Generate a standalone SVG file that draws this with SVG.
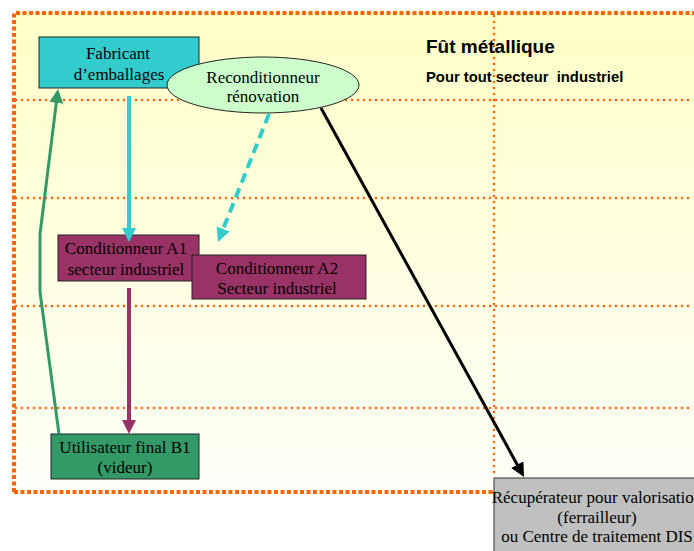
<svg xmlns="http://www.w3.org/2000/svg" width="694" height="551" viewBox="0 0 694 551">
<style>
.box{stroke:#222;stroke-width:1}
.t{font-family:"Liberation Serif","Times New Roman",serif;font-size:17px;fill:#000;text-anchor:middle}
.dot{stroke:#FF6600;stroke-width:2.6;stroke-dasharray:0 6;stroke-linecap:round;fill:none}
.h{font-family:"Liberation Sans",Arial,sans-serif;font-weight:bold;fill:#000;white-space:pre}
.c{fill:none;stroke-width:3}
.w{stroke-width:4}
</style>
<defs>
<linearGradient id="bg" x1="0" y1="0" x2="0" y2="1">
<stop offset="0" stop-color="#FFFFC8"/>
<stop offset="1" stop-color="#FFFFFA"/>
</linearGradient>
<marker id="aC" markerUnits="userSpaceOnUse" markerWidth="14" markerHeight="14" refX="4" refY="7" orient="auto"><path d="M0,0 L14,7 L0,14 z" fill="#33CCCC"/></marker>
<marker id="aP" markerUnits="userSpaceOnUse" markerWidth="14" markerHeight="14" refX="4" refY="7" orient="auto"><path d="M0,0 L14,7 L0,14 z" fill="#993366"/></marker>
<marker id="aK" markerUnits="userSpaceOnUse" markerWidth="14" markerHeight="14" refX="4" refY="7" orient="auto"><path d="M0,0 L14,7 L0,14 z" fill="#000"/></marker>
<marker id="aG" markerUnits="userSpaceOnUse" markerWidth="14" markerHeight="14" refX="4" refY="7" orient="auto"><path d="M0,0 L14,7 L0,14 z" fill="#339966"/></marker>
</defs>
<rect x="0" y="0" width="694" height="551" fill="#FFFFFF"/>
<g id="frame">
<rect x="14" y="13" width="690" height="479" fill="url(#bg)"/>
<line class="dot" x1="16" y1="100" x2="694" y2="100"/>
<line class="dot" x1="16" y1="198" x2="694" y2="198"/>
<line class="dot" x1="16" y1="306" x2="694" y2="306"/>
<line class="dot" x1="16" y1="408" x2="694" y2="408"/>
<line class="dot" x1="494" y1="16" x2="494" y2="476"/>
<path d="M14,492 L14,13 L700,13 M14,492 L494,492" fill="none" stroke="#FF6600" stroke-width="4" stroke-dasharray="4 2.5"/>
</g>
<g id="title">
<text class="h" x="426" y="53" font-size="19">Fût métallique</text>
<text class="h" x="426" y="82" font-size="14.8">Pour tout secteur  industriel</text>
</g>
<g id="fabricant">
<rect class="box" x="39" y="37" width="160" height="51" fill="#33CCCC"/>
<text class="t" x="118" y="59">Fabricant</text>
<text class="t" x="119" y="80">d’emballages</text>
</g>
<g id="reconditionneur">
<ellipse class="box" cx="263" cy="85" rx="96" ry="28" fill="#CCFFCC"/>
<text class="t" x="263" y="83">Reconditionneur</text>
<text class="t" x="263" y="102">rénovation</text>
</g>
<g id="conditionneurA1">
<rect class="box" x="58" y="235" width="141" height="46" fill="#993366"/>
<text class="t" x="126" y="254">Conditionneur A1</text>
<text class="t" x="126" y="275">secteur industriel</text>
</g>
<g id="conditionneurA2">
<rect class="box" x="192" y="255" width="174" height="44" fill="#993366"/>
<text class="t" x="277" y="274">Conditionneur A2</text>
<text class="t" x="277" y="294">Secteur industriel</text>
</g>
<g id="utilisateurB1">
<rect class="box" x="51" y="434" width="148" height="45" fill="#339966"/>
<text class="t" x="125" y="453">Utilisateur final B1</text>
<text class="t" x="125" y="473">(videur)</text>
</g>
<g id="recuperateur">
<rect x="494" y="478" width="210" height="80" fill="#C0C0C0" stroke="#333" stroke-width="1"/>
<text class="t" x="597" y="503">Récupérateur pour valorisation</text>
<text class="t" x="597" y="523">(ferrailleur)</text>
<text class="t" x="597" y="542">ou Centre de traitement DIS</text>
</g>
<g id="connectors">
<line class="c w" x1="129" y1="96" x2="129" y2="232" stroke="#33CCCC" marker-end="url(#aC)"/>
<line class="c w" x1="269" y1="114" x2="221.7" y2="232.7" stroke="#33CCCC" stroke-dasharray="10 6" marker-end="url(#aC)"/>
<line class="c w" x1="129" y1="288" x2="129" y2="424" stroke="#993366" marker-end="url(#aP)"/>
<line class="c" x1="321" y1="108" x2="519.2" y2="468.2" stroke="#000" marker-end="url(#aK)"/>
<polyline class="c" points="59,434 40,292 40,234 56.8,98.9" stroke="#339966" marker-end="url(#aG)"/>
</g>
</svg>
